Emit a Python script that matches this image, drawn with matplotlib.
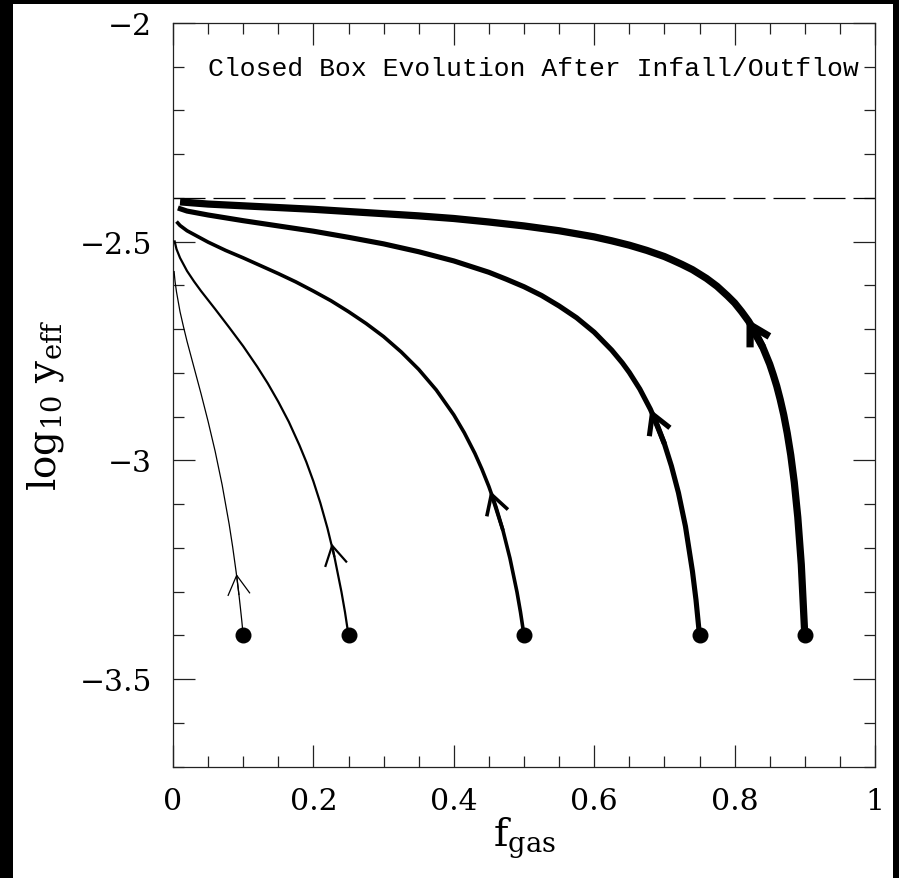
import matplotlib
matplotlib.use("Agg")
import matplotlib.pyplot as plt
from matplotlib.patches import Rectangle
from matplotlib.ticker import MultipleLocator

plt.rcParams['mathtext.fontset'] = 'custom'
plt.rcParams['mathtext.rm'] = 'DejaVu Serif'
plt.rcParams['mathtext.it'] = 'DejaVu Serif:italic'

# ---------------- data ----------------
start_fgas = [0.10, 0.25, 0.50, 0.75, 0.90]
start_logy = [-3.40, -3.40, -3.40, -3.40, -3.40]
closed_box_yield = -2.40

f_010 = [0.1, 0.098, 0.096, 0.094, 0.09, 0.085, 0.08, 0.07, 0.06, 0.05, 0.04,
         0.03, 0.02, 0.015, 0.01, 0.005, 0.003, 0.002, 0.0015]
y_010 = [-3.40, -3.367, -3.337, -3.308, -3.256, -3.198, -3.146, -3.056, -2.979,
         -2.911, -2.848, -2.788, -2.728, -2.695, -2.660, -2.615, -2.592, -2.576, -2.567]

f_025 = [0.25, 0.245, 0.24, 0.23, 0.22, 0.21, 0.2, 0.19, 0.18, 0.165, 0.15, 0.135,
         0.12, 0.1, 0.08, 0.06, 0.04, 0.03, 0.02, 0.01, 0.005, 0.002]
y_025 = [-3.40, -3.347, -3.301, -3.221, -3.155, -3.098, -3.048, -3.004, -2.965,
         -2.912, -2.866, -2.824, -2.786, -2.739, -2.696, -2.654, -2.613, -2.591,
         -2.567, -2.537, -2.517, -2.497]

f_050 = [0.5, 0.495, 0.49, 0.48, 0.47, 0.46, 0.45, 0.44, 0.43, 0.415, 0.4, 0.375,
         0.35, 0.325, 0.3, 0.275, 0.25, 0.225, 0.2, 0.175, 0.15, 0.125, 0.1,
         0.075, 0.05, 0.02, 0.01, 0.005]
y_050 = [-3.40, -3.347, -3.301, -3.224, -3.160, -3.106, -3.060, -3.020, -2.984,
         -2.937, -2.896, -2.839, -2.792, -2.752, -2.717, -2.687, -2.660, -2.635,
         -2.613, -2.592, -2.573, -2.555, -2.537, -2.520, -2.501, -2.475, -2.463, -2.454]

f_075 = [0.75, 0.745, 0.74, 0.73, 0.72, 0.71, 0.70, 0.69, 0.68, 0.665, 0.65, 0.64,
         0.625, 0.6, 0.575, 0.55, 0.525, 0.5, 0.475, 0.45, 0.425, 0.4, 0.35, 0.3,
         0.25, 0.2, 0.15, 0.1, 0.05, 0.02, 0.007]
y_075 = [-3.40, -3.319, -3.254, -3.151, -3.074, -3.013, -2.962, -2.920, -2.883,
         -2.837, -2.799, -2.777, -2.748, -2.707, -2.674, -2.647, -2.623, -2.603,
         -2.586, -2.570, -2.557, -2.544, -2.523, -2.505, -2.490, -2.476, -2.464,
         -2.452, -2.439, -2.430, -2.423]

f_090 = [0.9, 0.895, 0.89, 0.885, 0.88, 0.875, 0.87, 0.865, 0.86, 0.855, 0.85,
         0.84, 0.83, 0.82, 0.81, 0.8, 0.79, 0.775, 0.76, 0.75, 0.74, 0.725, 0.71,
         0.7, 0.675, 0.65, 0.625, 0.6, 0.575, 0.55, 0.5, 0.45, 0.4, 0.35, 0.3,
         0.2, 0.1, 0.05, 0.01]
y_090 = [-3.40, -3.238, -3.130, -3.050, -2.988, -2.938, -2.896, -2.861, -2.830,
         -2.804, -2.780, -2.741, -2.709, -2.682, -2.660, -2.640, -2.624, -2.602,
         -2.584, -2.574, -2.564, -2.552, -2.541, -2.534, -2.520, -2.508, -2.498,
         -2.489, -2.482, -2.475, -2.464, -2.455, -2.447, -2.441, -2.436, -2.426,
         -2.418, -2.414, -2.409]

curves_f = [f_010, f_025, f_050, f_075, f_090]
curves_y = [y_010, y_025, y_050, y_075, y_090]
curve_lw = [0.9, 1.6, 2.6, 3.7, 5.2]

# arrow heads (tip and a point just behind it on each curve)
arrow_tip_f = [0.0905, 0.226, 0.452, 0.680, 0.817]
arrow_tip_y = [-3.260, -3.190, -3.070, -2.883, -2.676]
arrow_tail_f = [0.094, 0.23, 0.47, 0.70, 0.84]
arrow_tail_y = [-3.308, -3.221, -3.160, -2.962, -2.741]

title_text = "Closed Box Evolution After Infall/Outflow"
xticks = [0, 0.2, 0.4, 0.6, 0.8, 1]
xticklabels = ["0", "0.2", "0.4", "0.6", "0.8", "1"]
yticks = [-3.5, -3, -2.5, -2]
yticklabels = ["\u22123.5", "\u22123", "\u22122.5", "\u22122"]

# ---------------- figure ----------------
W, H = 899, 879
fig = plt.figure(figsize=(W / 100, H / 100), dpi=100, facecolor='black')
fig.patches.append(Rectangle((13 / W, 0), 880 / W, 874 / H, transform=fig.transFigure,
                             facecolor='white', edgecolor='none', zorder=-10))

ax = fig.add_axes([173 / W, 1 - 767.5 / H, 702 / W, 743.5 / H])
ax.set_facecolor('white')
ax.set_xlim(0, 1)
ax.set_ylim(-3.7, -2.0)

ax.axhline(closed_box_yield, color='black', lw=0.9, dashes=(25.6, 6.4))

for fx, fy, lw in zip(curves_f, curves_y, curve_lw):
    ax.plot(fx, fy, color='black', lw=lw, solid_capstyle='butt',
            solid_joinstyle='round', zorder=3)

for tf, ty, sf, sy, lw in zip(arrow_tip_f, arrow_tip_y, arrow_tail_f, arrow_tail_y, curve_lw):
    ax.annotate('', xy=(tf, ty), xytext=(sf, sy),
                arrowprops=dict(arrowstyle='->,head_length=0.7,head_width=0.4',
                                lw=lw, color='black', shrinkA=0, shrinkB=0,
                                mutation_scale=20, joinstyle='miter', capstyle='butt'),
                zorder=4)

ax.plot(start_fgas, start_logy, 'o', color='black', ms=10.5, zorder=5)

ax.text(0.513, -2.118, title_text, family='Liberation Mono', fontsize=19,
        ha='center', va='baseline')

# ticks
ax.set_xticks(xticks)
ax.set_xticklabels(xticklabels)
ax.set_yticks(yticks)
ax.set_yticklabels(yticklabels)
ax.xaxis.set_minor_locator(MultipleLocator(0.05))
ax.yaxis.set_minor_locator(MultipleLocator(0.1))
ax.tick_params(which='both', direction='in', top=True, right=True, width=0.9,
               color='#222222')
ax.tick_params(which='major', length=15.8, pad=15)
ax.tick_params(which='minor', length=7.9)
for lab in ax.get_xticklabels() + ax.get_yticklabels():
    lab.set_family('DejaVu Serif')
    lab.set_fontsize(21.5)
for sp in ax.spines.values():
    sp.set_linewidth(0.9)
    sp.set_color('#222222')

fig.text(45 / W, 1 - 405 / H, r'$\mathrm{log_{10}\ y_{eff}}$', rotation=90,
         ha='center', va='center', fontsize=28)
fig.text(524 / W, 1 - 838 / H, r'$\mathrm{f_{gas}}$', ha='center', va='center',
         fontsize=28)

fig.savefig('out.png', dpi=100, facecolor='black')
